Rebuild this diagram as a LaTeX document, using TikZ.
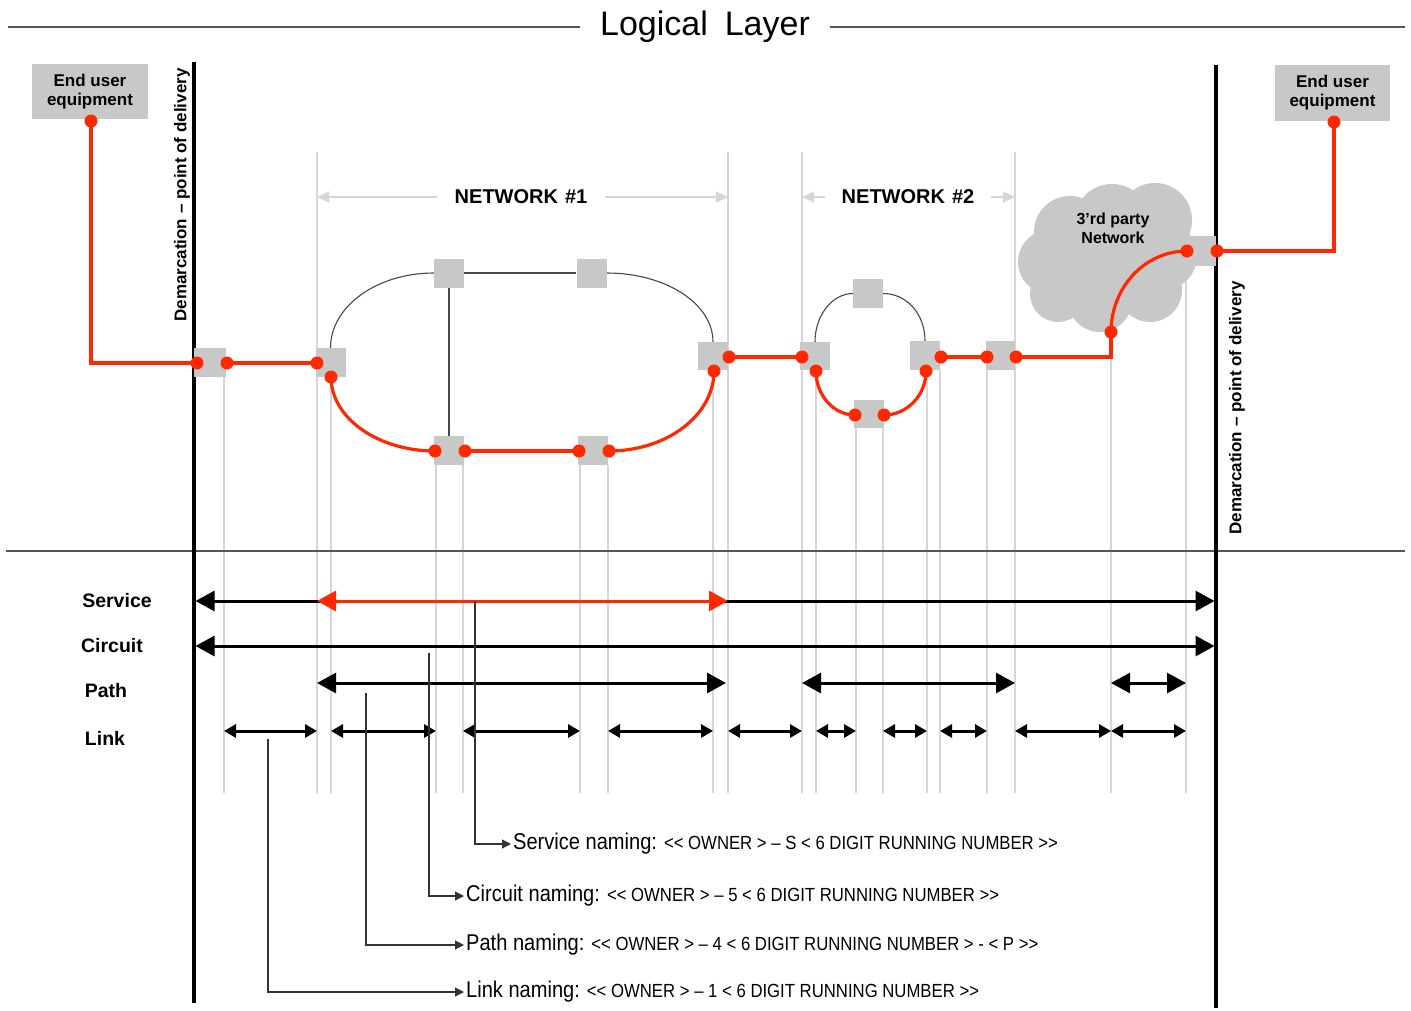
\documentclass[tikz,border=0pt]{standalone}
\usepackage{fontspec}
\setmainfont{Liberation Sans}
\newfontfamily\narrowfont[FakeStretch=0.88]{Liberation Sans}
\usetikzlibrary{arrows.meta}
\definecolor{nodegray}{RGB}{200,200,200}
\definecolor{linkred}{RGB}{255,40,0}
\definecolor{guidegray}{RGB}{214,214,214}
\definecolor{rulegray}{RGB}{85,85,85}
\pgfdeclarelayer{paper}
\pgfdeclarelayer{bg}
\pgfdeclarelayer{mid}
\pgfsetlayers{paper,bg,mid,main}

\begin{document}
\begin{tikzpicture}[x=1pt,y=-1pt,
  sq/.style={fill=nodegray, inner sep=0pt, minimum width=30pt, minimum height=29pt},
  dot/.style={circle, fill=linkred, inner sep=0pt, minimum size=13pt},
  eubox/.style={fill=nodegray, inner sep=0pt, minimum width=116pt, minimum height=55pt,
    align=center, font=\fontsize{17}{19}\selectfont\bfseries},
  redline/.style={draw=linkred, line width=3.2pt},
  ringline/.style={draw=black!72, line width=1.1pt},
  guide/.style={draw=guidegray, line width=1.1pt},
  demarc/.style={draw=black, line width=3.2pt},
  demtext/.style={rotate=90, inner sep=0pt, font=\fontsize{17}{19}\selectfont\bfseries},
  nettext/.style={inner xsep=18pt, inner ysep=0pt, font=\fontsize{20}{22}\selectfont\bfseries},
  netarrow/.style={draw=guidegray, line width=1.1pt, arrows={-Triangle[length=12pt,width=11pt]}},
  rowtext/.style={inner sep=0pt, font=\fontsize{19.5}{22}\selectfont\bfseries},
  bigarrow/.style={line width=3pt, arrows={Triangle[length=19pt,width=20pt]-Triangle[length=19pt,width=20pt]}},
  smallarrow/.style={line width=3pt, arrows={Triangle[length=12pt,width=13pt]-Triangle[length=12pt,width=13pt]}},
  leader/.style={draw=black!80, line width=1.1pt, arrows={-Triangle[length=9pt,width=9pt]}},
  nametext/.style={anchor=west, inner sep=2pt},
]
% canvas
\begin{pgfonlayer}{paper}
  \fill[white] (0,0) rectangle (1411,1010);
\end{pgfonlayer}
\useasboundingbox (0,0) rectangle (1411,1010);

% ---------- title ----------
\node[inner xsep=20pt, inner ysep=0pt, font=\fontsize{34}{38}\selectfont] (title) at (705,27)
  {Logical\hspace{0.5em}Layer};
\coordinate (titleL) at (8,27);
\coordinate (titleR) at (1405,27);
\draw[rulegray, line width=1.4pt] (titleL) -- (title.west);
\draw[rulegray, line width=1.4pt] (title.east) -- (titleR);

% ---------- guide lines and cloud ----------
\begin{pgfonlayer}{bg}
  \foreach \x/\t in {224/377, 317/152, 331/377, 436/465, 463/465, 580/465, 608/465,
                     713/371, 728/152, 802/152, 816/371, 856/428, 883/428, 927/371,
                     940/370, 987/370, 1015/152, 1111/357, 1186/265}{
    \coordinate (g\x) at (\x,793);
    \draw[guide] (\x,\t) -- (g\x);
  }
  % third party cloud
  \fill[nodegray]
    (1070,232) circle[radius=36pt]
    (1112,222) circle[radius=38pt]
    (1155,220) circle[radius=37pt]
    (1163,256) circle[radius=34pt]
    (1050,262) circle[radius=32pt]
    (1058,294) circle[radius=28pt]
    (1100,300) circle[radius=32pt]
    (1150,290) circle[radius=32pt]
    (1110,262) circle[radius=42pt];
\end{pgfonlayer}
\node[inner sep=0pt, align=center, font=\fontsize{16}{19}\selectfont\bfseries] (cloudtxt) at (1113,228)
  {3’rd party\\Network};

% ---------- separator and demarcation lines ----------
\coordinate (sepL) at (6,551);
\coordinate (sepR) at (1405,551);
\draw[rulegray, line width=1.3pt] (sepL) -- (sepR);
\coordinate (demLtop) at (194,62);
\coordinate (demLbot) at (194,1003);
\coordinate (demRtop) at (1216,65);
\coordinate (demRbot) at (1216,1008);
\draw[demarc] (demLtop) -- (demLbot);
\draw[demarc] (demRtop) -- (demRbot);
\node[demtext] (demLtxt) at (182,195) {Demarcation – point of delivery};
\node[demtext] (demRtxt) at (1237,408) {Demarcation – point of delivery};

% ---------- end user equipment ----------
\node[eubox] (euL) at (90,91.5) {End user\\equipment};
\node[eubox, minimum width=115pt, minimum height=56pt] (euR) at (1332.5,93) {End user\\equipment};

% ---------- network labels ----------
\node[nettext] (net1) at (521,197) {NETWORK\hspace{0.35em}\#1};
\node[nettext, inner xsep=17pt] (net2) at (908,197) {NETWORK\hspace{0.35em}\#2};
\draw[netarrow] (net1.west) -- (g317 |- net1.west);
\draw[netarrow] (net1.east) -- (g728 |- net1.east);
\draw[netarrow] (net2.west) -- (g802 |- net2.west);
\draw[netarrow] (net2.east) -- (g1015 |- net2.east);

% ---------- network elements ----------
\node[sq, minimum width=32pt] (sqD)   at (210,362.5) {};
\node[sq] (sqA)   at (330.5,362.5) {};
\node[sq] (sqTL)  at (449,273) {};
\node[sq] (sqTR)  at (591.5,273) {};
\node[sq] (sqBL)  at (449,450.5) {};
\node[sq] (sqBR)  at (593,450.5) {};
\node[sq, minimum height=28pt] (sqN1R) at (713,356) {};
\node[sq, minimum height=28pt] (sqN2L) at (815,356) {};
\node[sq] (sqN2T) at (868,293.5) {};
\node[sq, minimum height=28pt] (sqN2B) at (869,414) {};
\node[sq] (sqN2R) at (925,355.5) {};
\node[sq, minimum width=29pt] (sqM)   at (1000.5,355.5) {};
\node[sq, minimum height=30pt] (sqC)   at (1201,250.5) {};

% connection points
\coordinate (d1)  at (91,121);
\coordinate (d2)  at (197,363);
\coordinate (d3)  at (227,363);
\coordinate (d4)  at (317,363);
\coordinate (d5)  at (331,377);
\coordinate (d6)  at (435,451);
\coordinate (d7)  at (465,451);
\coordinate (d8)  at (579,451);
\coordinate (d9)  at (609,451);
\coordinate (d10) at (714,371);
\coordinate (d11) at (729,357);
\coordinate (d12) at (802,357);
\coordinate (d13) at (816,371);
\coordinate (d14) at (855,415);
\coordinate (d15) at (884,415);
\coordinate (d16) at (926,371);
\coordinate (d17) at (941,357);
\coordinate (d18) at (987,357);
\coordinate (d19) at (1016,357);
\coordinate (d20) at (1111,332);
\coordinate (d21) at (1187,251);
\coordinate (d22) at (1217,251);
\coordinate (d23) at (1334,122);

\begin{pgfonlayer}{mid}
  % physical rings
  \draw[ringline] (sqA.north) .. controls +(0,-41.4) and +(-56.9,0) .. (sqTL.west);
  \draw[ringline] (sqTL.east) -- (sqTR.west);
  \draw[ringline] (sqTR.east) .. controls +(59.1,0) and +(0,-38.1) .. (sqN1R.north);
  \draw[ringline] (sqTL.south) -- (sqBL.north);
  \draw[ringline] (sqN2L.north) .. controls +(0,-26.5) and +(-20.4,0) .. (sqN2T.west);
  \draw[ringline] (sqN2T.east) .. controls +(23.7,0) and +(0,-26.5) .. (sqN2R.north);
  % service route
  \draw[redline] (d1) |- (d2);
  \draw[redline] (d3) -- (d4);
  \draw[redline] (d5) .. controls +(0,40.8) and +(-57.4,0) .. (d6);
  \draw[redline] (d7) -- (d8);
  \draw[redline] (d9) .. controls +(58,0) and +(0,44.2) .. (d10);
  \draw[redline] (d11) -- (d12);
  \draw[redline] (d13) .. controls +(0,24.3) and +(-21.5,0) .. (d14);
  \draw[redline] (d15) .. controls +(23.2,0) and +(0,24.3) .. (d16);
  \draw[redline] (d17) -- (d18);
  \draw[redline] (d19) -| (d20);
  \draw[redline] (d20) .. controls +(0,-44.7) and +(-42,0) .. (d21);
  \draw[redline] (d22) -| (d23);
\end{pgfonlayer}

\foreach \p in {d1,d2,d3,d4,d5,d6,d7,d8,d9,d10,d11,d12,d13,d14,d15,d16,d17,d18,d19,d20,d21,d22,d23}{
  \node[dot] (\p dot) at (\p) {};
}

% ---------- layer rows ----------
\coordinate (rowS) at (0,601);
\coordinate (rowC) at (0,646);
\coordinate (rowP) at (0,683);
\coordinate (rowL) at (0,731);
\node[rowtext] (labS) at (117,601) {Service};
\node[rowtext] (labC) at (112,646) {Circuit};
\node[rowtext] (labP) at (106,691) {Path};
\node[rowtext] (labL) at (105,738) {Link};

\draw[bigarrow, shorten <=1.5pt, shorten >=1.5pt] (demLbot |- rowS) -- (demRbot |- rowS);
\draw[bigarrow, linkred] (g317 |- rowS) -- (g728 |- rowS);
\draw[bigarrow, shorten <=1.5pt, shorten >=1.5pt] (demLbot |- rowC) -- (demRbot |- rowC);

\draw[bigarrow, shorten >=2pt] (g317 |- rowP) -- (g728 |- rowP);
\draw[bigarrow] (g802 |- rowP) -- (g1015 |- rowP);
\draw[bigarrow] (g1111 |- rowP) -- (g1186 |- rowP);

\foreach \a/\b in {224/317, 331/436, 463/580, 608/713, 728/802, 816/856,
                   883/927, 940/987, 1015/1111, 1111/1186}{
  \draw[smallarrow] (g\a |- rowL) -- (g\b |- rowL);
}

% ---------- naming conventions ----------
\newcommand{\namelabel}[1]{{\fontsize{22.8}{26}\narrowfont #1}}
\newcommand{\namecode}[1]{{\fontsize{19}{22}\narrowfont #1}}

\node[nametext] (nameS) at (511,844)
  {\namelabel{Service naming:}\hspace{7pt}\namecode{<\kern0pt< OWNER > – S < 6 DIGIT RUNNING NUMBER >\kern0pt>}};
\node[nametext] (nameC) at (464,896)
  {\namelabel{Circuit naming:}\hspace{7pt}\namecode{<\kern0pt< OWNER > – 5 < 6 DIGIT RUNNING NUMBER >\kern0pt>}};
\node[nametext] (nameP) at (464,945)
  {\namelabel{Path naming:}\hspace{7pt}\namecode{<\kern0pt< OWNER > – 4 < 6 DIGIT RUNNING NUMBER > - < P >\kern0pt>}};
\node[nametext] (nameL) at (464,992)
  {\namelabel{Link naming:}\hspace{7pt}\namecode{<\kern0pt< OWNER > – 1 < 6 DIGIT RUNNING NUMBER >\kern0pt>}};

\coordinate (tapS) at (475,601);
\coordinate (tapC) at (429,653);
\coordinate (tapP) at (366,693);
\coordinate (tapL) at (268,739);
\draw[leader] (tapS) |- (nameS.west);
\draw[leader] (tapC) |- (nameC.west);
\draw[leader] (tapP) |- (nameP.west);
\draw[leader] (tapL) |- (nameL.west);
\end{tikzpicture}
\end{document}
